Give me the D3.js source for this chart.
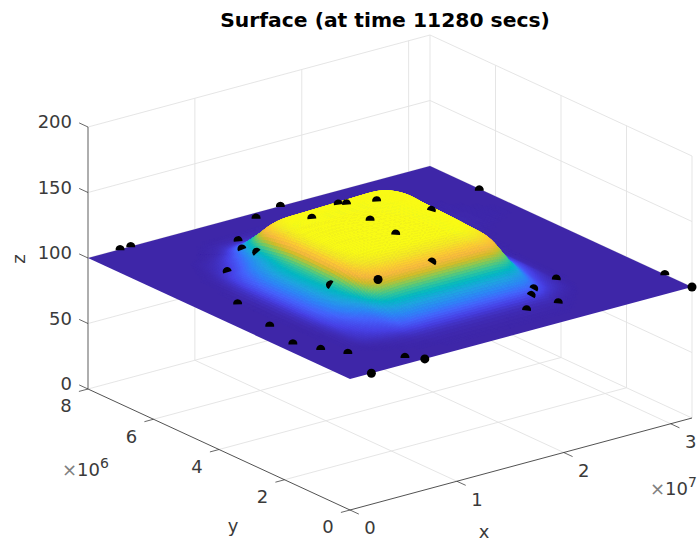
<!DOCTYPE html>
<html>
<head>
<meta charset="utf-8">
<script src="https://cdnjs.cloudflare.com/ajax/libs/d3/7.8.5/d3.min.js"></script>
<style>
html,body{margin:0;padding:0;background:#fff}
svg{display:block}
text{font-family:"DejaVu Sans",sans-serif}
</style>
</head>
<body>
<svg id="chart" width="700" height="545"></svg>
<script>
// ---------- data (x and y in units of 1e6) ----------
const titleText = "Surface (at time 11280 secs)";
const xTicks = [0, 10, 20, 30];
const yTicks = [0, 2, 4, 6, 8];
const zTicks = [0, 50, 100, 150, 200];
const xLimit = 32, yLimit = 8, zLimit = 200;

const surfaceX = [0, 4, 5.5, 7, 8.2, 9.2, 10.5, 13, 17, 20, 21.4, 22.3, 23.2, 24.5, 26, 32];
const surfaceY = [0, 1, 1.5, 2, 2.4, 2.8, 3.4, 4.5, 5.2, 5.6, 6, 6.5, 7, 8];
const surfaceZ = [
 [100,100,100,100,100,100,100,100,100,100,100,100,100,100,100,100],
 [100,100,100.1,100.3,100.5,100.8,101,101,101,101,100.9,100.5,100.2,100,100,100],
 [100,100.1,101.3,102.6,104,106.8,107.8,108,108,108,107,104,101.9,100.5,100,100],
 [100,100.2,102.6,105.3,107.9,113.6,115.6,116,116,116,114,108.6,103.9,101.1,100,100],
 [100,100.3,104,108.5,112.6,122,125,126,126,126,122.5,113.5,106.3,101.8,100,100],
 [100,100.4,105.3,111,116.3,128.5,132.5,133.5,133.5,133.5,129.5,118,108.4,102.4,100,100],
 [100,100.5,105.9,112.3,118.2,131.9,136.4,137.5,137.5,137.5,130.5,119.5,109.3,102.6,100,100],
 [100,100.5,106,112.5,118.5,132.3,136.9,138,138,138,132,120,109.5,102.7,100.2,100],
 [100,100.2,104,109.5,115.5,130,135.8,136.9,137,137,133,120,109,103,100.5,100],
 [100,100.1,102,106,113,127,133,134.2,135,135,129,118,108,103,100.5,100],
 [100,100,100.7,103,108,117,121,122,125,125,122,112,105,102,100.3,100],
 [100,100,100.1,100.6,102,105,107,107.6,108.5,109,107,103.5,101.5,100.6,100.1,100],
 [100,100,100,100,100.2,100.5,100.7,100.8,100.8,100.7,100.5,100.3,100.1,100,100,100],
 [100,100,100,100,100,100,100,100,100,100,100,100,100,100,100,100]
];
const colorFloor = 100, colorCeiling = 136;

const stationX = [3, 4, 18, 15.05, 11.1, 9.93, 9.38, 6.25, 3, 2.05, 1.15, 2.07, 3.17, 2, 6.03, 7,
  8.13, 9.7, 15.44, 15.06, 15.27, 20.3, 18.12, 16.1, 15.6, 12.3, 31.86, 25, 22.43, 21.42, 22.09, 19.31, 32, 32];
const stationY = [8, 8, 8, 7.78, 7.04, 6.54, 5.91, 5.79, 4.41, 3.12, 2.12, 1.57, 1.1, 0, 0.29, 0,
  3.25, 2.31, 2.54, 3.52, 4.37, 4.14, 5.1, 5.36, 5.45, 5.18, 6.45, 1.86, 1.71, 1.46, 0.85, 0.91, 0.83, 0];
const stationZ = [100, 100, 100, 100, 100, 102, 108, 101.5, 100, 100, 100, 100, 100, 100, 100, 100,
  116.5, 128, 126, 137, 137.5, 136.5, 137.5, 136.5, 136.5, 136, 100, 100, 100, 100, 100, 100, 100, 100];

const parulaStops = ["#3e26a8","#4741e5","#4563fd","#2d87f7","#20a5e2","#02bac3","#37c897","#81cc59","#d1bf27","#f8ba3d","#fccf30","#f5e924","#f9fb15"];

// ---------- scales ----------
const originX = 350;
const xToPx = d3.scaleLinear().domain([0, xLimit]).range([0, 342]);
const xToPy = d3.scaleLinear().domain([0, xLimit]).range([0, -92]);
const yToPx = d3.scaleLinear().domain([0, yLimit]).range([0, -262]);
const yToPy = d3.scaleLinear().domain([0, yLimit]).range([0, -121]);
const zToPy = d3.scaleLinear().domain([0, zLimit]).range([510, 248]);
const project = (x, y, z) => [originX + xToPx(x) + yToPx(y), zToPy(z) + xToPy(x) + yToPy(y)];

const zMin = d3.min(surfaceZ.flat()), zMax = d3.max(surfaceZ.flat());
const colorT = d3.scaleLinear().domain([colorFloor, colorCeiling]).range([0, 1]).clamp(true);
const parula = d3.piecewise(d3.interpolateRgb, parulaStops);
const color = z => parula(colorT(z));

const svg = d3.select("#chart");
const lineGen = d3.line();
const segment = (a, b) => lineGen([project(...a), project(...b)]);

// ---------- box grid ----------
const gridLines = [];
const xInner = xTicks.filter(v => v > 0);
const yInner = yTicks.filter(v => v > 0 && v < yLimit);
zTicks.forEach(z => {
  gridLines.push([[0, yLimit, z], [xLimit, yLimit, z]]);
  gridLines.push([[xLimit, yLimit, z], [xLimit, 0, z]]);
});
xInner.forEach(x => {
  gridLines.push([[x, yLimit, 0], [x, yLimit, zLimit]]);
  gridLines.push([[x, 0, 0], [x, yLimit, 0]]);
});
yInner.forEach(y => {
  gridLines.push([[xLimit, y, 0], [xLimit, y, zLimit]]);
  gridLines.push([[0, y, 0], [xLimit, y, 0]]);
});
gridLines.push([[xLimit, yLimit, 0], [xLimit, yLimit, zLimit]]);
gridLines.push([[xLimit, 0, 0], [xLimit, 0, zLimit]]);

svg.append("g").selectAll("path").data(gridLines).join("path")
  .attr("d", d => segment(d[0], d[1]))
  .attr("fill", "none").attr("stroke", "#e2e2e2").attr("stroke-width", 0.9);

// ---------- axes ----------
const axes = svg.append("g").attr("fill", "none").attr("stroke", "#262626");
axes.append("path").attr("d", segment([0, 0, 0], [xLimit, 0, 0])).attr("stroke-width", 0.8);
axes.append("path").attr("d", segment([0, 0, 0], [0, yLimit, 0])).attr("stroke-width", 0.8);
axes.append("path").attr("d", segment([0, yLimit, 0], [0, yLimit, zLimit])).attr("stroke", "#8c8c8c").attr("stroke-width", 1.4);
const xTickLen = 0.27, yTickLen = 0.85, zTickLen = 0.27;
axes.append("g").selectAll("path").data(xTicks).join("path")
  .attr("d", v => segment([v, 0, 0], [v, -xTickLen, 0])).attr("stroke-width", 0.7);
axes.append("g").selectAll("path").data(yTicks).join("path")
  .attr("d", v => segment([0, v, 0], [-yTickLen, v, 0])).attr("stroke-width", 0.7);
axes.append("g").selectAll("path").data(zTicks).join("path")
  .attr("d", v => segment([0, yLimit, v], [0, yLimit + zTickLen, v])).attr("stroke-width", 0.7);

// ---------- surface: smoothed shading between the read values ----------
function catmull(p0, p1, p2, p3, t) {
  return 0.5 * (2 * p1 + (p2 - p0) * t + (2 * p0 - 5 * p1 + 4 * p2 - p3) * t * t + (3 * p1 - p0 - 3 * p2 + p3) * t * t * t);
}
const nx = surfaceX.length, ny = surfaceY.length;
const ci = (i, n) => Math.max(0, Math.min(n - 1, i));
function along(arr, u) {
  const i = Math.min(Math.floor(u), arr.length - 2), t = u - i;
  return catmull(arr[ci(i - 1, arr.length)], arr[i], arr[i + 1], arr[ci(i + 2, arr.length)], t);
}
function surfaceAt(u, v) {
  const j = Math.min(Math.floor(v), ny - 2), t = v - j;
  const rows = [j - 1, j, j + 1, j + 2].map(r => along(surfaceZ[ci(r, ny)], u));
  return Math.max(zMin, Math.min(zMax, catmull(rows[0], rows[1], rows[2], rows[3], t)));
}
const sub = 8;
const vertex = (i, j) => {
  const u = i / sub, v = j / sub;
  return [along(surfaceX, u), along(surfaceY, v), surfaceAt(u, v)];
};
const cells = [];
for (let i = (nx - 1) * sub - 1; i >= 0; i--) {
  for (let j = (ny - 1) * sub - 1; j >= 0; j--) {
    const c = [vertex(i, j), vertex(i + 1, j), vertex(i + 1, j + 1), vertex(i, j + 1)];
    const top = d3.max(c, p => p[2]);
    if (top - zMin > 0.06) cells.push({ pts: c.map(p => project(...p)), z: d3.mean(c, p => p[2]) });
  }
}
// the flat sheet around the raised area
svg.append("path")
  .attr("d", lineGen([[0, 0], [xLimit, 0], [xLimit, yLimit], [0, yLimit]].map(p => project(p[0], p[1], zMin))) + "Z")
  .attr("fill", color(zMin));
svg.append("g").selectAll("path").data(cells).join("path")
  .attr("d", d => lineGen(d.pts) + "Z")
  .attr("fill", d => color(d.z))
  .attr("stroke", d => color(d.z))
  .attr("stroke-width", 0.7)
  .attr("stroke-linejoin", "round");

// ---------- stations: each disc is cut where it enters the surface ----------
function surfaceOver(x, y) {
  const findU = (arr, val) => {
    const b = Math.max(0, Math.min(arr.length - 2, d3.bisectRight(arr, val) - 1));
    return b + (val - arr[b]) / (arr[b + 1] - arr[b]);
  };
  return surfaceAt(findU(surfaceX, x), findU(surfaceY, y));
}
const pxPerX = [xToPx(1) - xToPx(0), xToPy(1) - xToPy(0)];
const pxPerY = [yToPx(1) - yToPx(0), yToPy(1) - yToPy(0)];
const pxPerZ = zToPy(1) - zToPy(0);
const depthX = -4.97, depthY = -26.2, depthZ = 0.755;
const discR = 4.5, capSpread = 100 * Math.PI / 180;
function stationPath(x, y, z) {
  const s = surfaceOver(x, y);
  const p = d3.path();
  if (y < 0.1 || z - s > 3) {
    p.arc(0, 0, discR, 0, 2 * Math.PI);
    return p.toString();
  }
  const e = 0.25;
  const gx = (surfaceOver(Math.min(xLimit, x + e), y) - surfaceOver(Math.max(0, x - e), y)) / (2 * e);
  const gy = (surfaceOver(x, Math.min(yLimit, y + e)) - surfaceOver(x, Math.max(0, y - e))) / (2 * e);
  const a = pxPerX[0], b = pxPerY[0];
  const c = pxPerX[1] + pxPerZ * gx, f = pxPerY[1] + pxPerZ * gy;
  const det = a * f - b * c;
  const d1 = depthX + depthZ * gx, d2 = depthY + depthZ * gy;
  const gu = (d1 * f - d2 * c) / det;
  const gv = (-d1 * b + d2 * a) / det;
  const phi = Math.atan2(-gv, -gu);
  p.arc(0, 0, discR, phi - capSpread, phi + capSpread);
  p.closePath();
  return p.toString();
}
svg.append("g").selectAll("path").data(d3.range(stationX.length)).join("path")
  .attr("transform", i => `translate(${project(stationX[i], stationY[i], stationZ[i])})`)
  .attr("d", i => stationPath(stationX[i], stationY[i], stationZ[i]))
  .attr("fill", "#000");

// ---------- text ----------
const ink = "#3a3a3a";
const fs = 18;
const label = (x, y, t, anchor = "middle") => svg.append("text")
  .attr("x", x).attr("y", y).attr("dy", "0.36em").attr("text-anchor", anchor)
  .attr("font-size", fs).attr("fill", ink).text(t);

svg.append("text").attr("x", 385).attr("y", 20).attr("dy", "0.36em").attr("text-anchor", "middle")
  .attr("font-size", 20.3).attr("font-weight", "bold").attr("fill", "#000").text(titleText);

zTicks.forEach(v => {
  const [px, py] = project(0, yLimit, v);
  label(px - 16, py - 5, String(v), "end");
});
yTicks.forEach(v => {
  const [px, py] = project(0, v, 0);
  label(px - 22, py + 17, String(v));
});
xTicks.forEach(v => {
  const [px, py] = project(v, 0, 0);
  label(px + 20, py + 18, String(v / 10));
});
label(233, 526, "y");
label(484, 532, "x");
svg.append("text").attr("transform", "translate(19,259) rotate(-90)").attr("dy", "0.36em")
  .attr("text-anchor", "middle").attr("font-size", fs).attr("fill", ink).text("z");

function exponent(x, y, power) {
  const t = svg.append("text").attr("x", x).attr("y", y).attr("font-size", fs).attr("fill", ink);
  t.append("tspan").attr("fill", "#808080").text("\u00d7");
  t.append("tspan").text("10");
  t.append("tspan").attr("dy", -8).attr("font-size", 14).text(power);
}
exponent(62, 476, "6");
exponent(650, 495, "7");
</script>
</body>
</html>
